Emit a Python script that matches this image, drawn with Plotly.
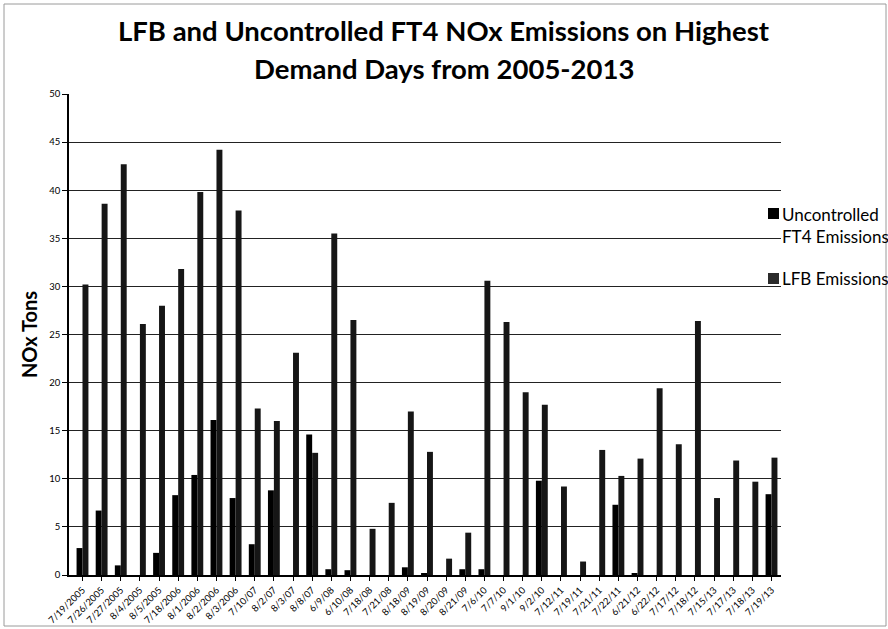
import plotly.graph_objects as go

categories = ["7/19/2005", "7/26/2005", "7/27/2005", "8/4/2005", "8/5/2005",
              "7/18/2006", "8/1/2006", "8/2/2006", "8/3/2006", "7/10/07",
              "8/2/07", "8/3/07", "8/8/07", "6/9/08", "6/10/08", "7/18/08",
              "7/21/08", "8/18/09", "8/19/09", "8/20/09", "8/21/09", "7/6/10",
              "7/7/10", "9/1/10", "9/2/10", "7/12/11", "7/19/11", "7/21/11",
              "7/22/11", "6/21/12", "6/22/12", "7/17/12", "7/18/12", "7/15/13",
              "7/17/13", "7/18/13", "7/19/13"]

uncontrolled = [2.8, 6.7, 1.0, 0.0, 2.3, 8.3, 10.4, 16.1, 8.0, 3.2,
                8.8, 0.0, 14.6, 0.6, 0.5, 0.0, 0.0, 0.8, 0.2, 0.0,
                0.6, 0.6, 0.0, 0.0, 9.8, 0.0, 0.0, 0.0, 7.3, 0.2,
                0.0, 0.0, 0.0, 0.0, 0.0, 0.0, 8.4]

lfb = [30.2, 38.6, 42.7, 26.1, 28.0, 31.8, 39.8, 44.2, 37.9, 17.3,
       16.0, 23.1, 12.7, 35.5, 26.5, 4.8, 7.5, 17.0, 12.8, 1.7,
       4.4, 30.6, 26.3, 19.0, 17.7, 9.2, 1.4, 13.0, 10.3, 12.1,
       19.4, 13.6, 26.4, 8.0, 11.9, 9.7, 12.2]

y_ticks = [0, 5, 10, 15, 20, 25, 30, 35, 40, 45, 50]

title_lines = ["LFB and Uncontrolled FT4 NOx Emissions on Highest",
               "Demand Days from 2005-2013"]

series_names = ["Uncontrolled<br>FT4 Emissions", "LFB Emissions"]
series_colors = ["#000000", "#161616"]
swatch_colors = ["#000000", "#2b2b2b"]

idx = list(range(len(categories)))

fig = go.Figure()
fig.add_trace(go.Bar(x=idx, y=uncontrolled, name=series_names[0],
                     marker=dict(color=series_colors[0], line=dict(width=0)),
                     showlegend=False))
fig.add_trace(go.Bar(x=idx, y=lfb, name=series_names[1],
                     marker=dict(color=series_colors[1], line=dict(width=0)),
                     showlegend=False))

W, H = 888, 629
L, R, T, B = 69, 781, 94, 575


def py(ypx):
    return (B - ypx) / (B - T)


def px(xpx):
    return (xpx - L) / (R - L)


title_font = dict(size=27.5, family="Lato, sans-serif", color="#000")
legend_font = dict(size=17, family="Lato, sans-serif", color="#000")

annotations = [
    dict(text="<b>%s</b>" % title_lines[0], x=px(444), y=py(30),
         xref="paper", yref="paper", xanchor="center", yanchor="middle",
         showarrow=False, font=title_font),
    dict(text="<b>%s</b>" % title_lines[1], x=px(444), y=py(68),
         xref="paper", yref="paper", xanchor="center", yanchor="middle",
         showarrow=False, font=title_font),
    # legend labels
    dict(text="Uncontrolled<br>FT4 Emissions", x=px(780), y=py(202),
         xref="paper", yref="paper", xanchor="left", yanchor="top", align="left",
         showarrow=False, font=legend_font),
    dict(text="LFB Emissions", x=px(780), y=py(278),
         xref="paper", yref="paper", xanchor="left", yanchor="middle", align="left",
         showarrow=False, font=legend_font),
]

shapes = [
    dict(type="rect", xref="paper", yref="paper",
         x0=px(4), x1=px(886), y0=py(626), y1=py(4),
         line=dict(color="#9a9a9a", width=1), fillcolor="rgba(0,0,0,0)", layer="below"),
    # legend swatches
    dict(type="rect", xref="paper", yref="paper",
         x0=px(768), x1=px(779), y0=py(219), y1=py(208),
         line=dict(width=0), fillcolor=swatch_colors[0]),
    dict(type="rect", xref="paper", yref="paper",
         x0=px(768), x1=px(779), y0=py(284), y1=py(273),
         line=dict(width=0), fillcolor=swatch_colors[1]),
]

fig.update_layout(
    width=W, height=H, autosize=False,
    margin=dict(l=L, r=W - R, t=T, b=H - B, pad=0),
    paper_bgcolor="white", plot_bgcolor="white",
    barmode="group", bargap=0.38, bargroupgap=0.0,
    font=dict(family="Lato, Open Sans, sans-serif", color="#000"),
    annotations=annotations,
    shapes=shapes,
    showlegend=False,
)

fig.update_xaxes(
    range=[-0.705, len(categories) - 1 + 0.496],
    tickmode="array", tickvals=idx, ticktext=categories,
    tickangle=-45, tickfont=dict(size=9.5, color="#000"),
    showline=True, linecolor="#000", linewidth=1.5,
    ticks="outside", tickson="boundaries", ticklen=4, tickcolor="#000",
    showgrid=False, zeroline=False, automargin=False,
)
fig.update_yaxes(
    range=[0, 50], tickmode="array", tickvals=y_ticks,
    tickfont=dict(size=9.5, color="#000"),
    showline=True, linecolor="#000", linewidth=1.5,
    ticks="outside", ticklen=5, tickcolor="#000",
    showgrid=True, gridcolor="#222", gridwidth=1,
    zeroline=False, automargin=False,
    title=dict(text="<b>NOx Tons</b>", font=dict(size=20, color="#000"), standoff=6),
)

fig.write_html("out.html",
               config={"displayModeBar": False},
               post_script="document.body.style.margin='0';document.body.style.overflow='hidden';")
